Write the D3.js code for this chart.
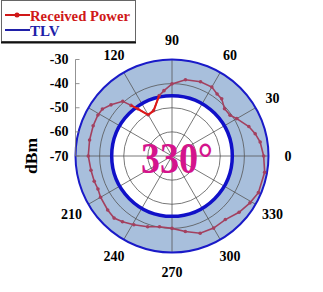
<!DOCTYPE html>
<html>
<head>
<meta charset="utf-8">
<script src="https://cdn.jsdelivr.net/npm/d3@7"></script>
<style>
  body { margin: 0; background: #fff; }
  text { font-family: "Liberation Serif", "Times New Roman", serif; font-weight: bold; }
</style>
</head>
<body>
<div id="chart"></div>
<script>
// Angles (deg, counter-clockwise from 0 at right) and received power (dBm)
const angles = [0, 9, 15, 21, 30, 35, 42, 49, 54, 60, 69, 80, 90, 97, 102, 112, 120, 126, 129, 132,
  140, 146, 151, 159, 169, 180, 190, 198, 204, 210, 220, 227, 233, 241, 251, 260, 270, 280, 290,
  300, 310, 320, 329, 337, 350];
const power = [-32, -33, -34.3, -35.9, -39, -40.6, -40.7, -38.6, -38.2, -37, -37, -37.9, -40.1,
  -42.7, -44.4, -49.7, -50.3, -45.8, -43, -39.5, -37, -35.2, -34.9, -35, -35.2, -35.3, -35.9,
  -36.1, -36.4, -35.8, -35.2, -34.8, -35.9, -37.4, -39, -40.2, -40, -38.2, -35.9, -35.5, -35.6,
  -33.7, -32.3, -31.1, -31];
const tlv = -45;
const radialTicks = [-30, -40, -50, -60, -70];
const angleLabels = [0, 30, 60, 90, 120, 210, 240, 270, 300, 330];
const spokes = [0, 30, 60, 90, 120, 150, 180, 210, 240, 270, 300, 330];
const centerLabel = '330°';

const W = 323, H = 292;
const cx = 172, cy = 156, R = 96.5;

const svg = d3.select('#chart').append('svg')
  .attr('width', W).attr('height', H);

const r = d3.scaleLinear().domain([-70, -30]).range([0, R]);
const rad = d => (90 - d) * Math.PI / 180;   // d3 radial angle from compass

const g = svg.append('g').attr('transform', 'translate(' + cx + ',' + cy + ')');

// shaded band between TLV and outer edge
g.append('path')
  .attr('d', d3.arc()({ innerRadius: r(tlv), outerRadius: R, startAngle: 0, endAngle: 2 * Math.PI }))
  .attr('fill', '#a8bfdc');

// grid circles
g.selectAll('circle.grid')
  .data([-40, -50, -60])
  .enter().append('circle')
  .attr('class', 'grid')
  .attr('r', d => r(d))
  .attr('fill', 'none')
  .attr('stroke', '#555')
  .attr('stroke-width', 0.8);

// spokes
g.selectAll('line.spoke')
  .data(spokes)
  .enter().append('line')
  .attr('class', 'spoke')
  .attr('x1', 0).attr('y1', 0)
  .attr('x2', d => R * Math.cos(d * Math.PI / 180))
  .attr('y2', d => -R * Math.sin(d * Math.PI / 180))
  .attr('stroke', '#555')
  .attr('stroke-width', 0.8);

// outer circle
g.append('circle').attr('r', R).attr('fill', 'none')
  .attr('stroke', '#1a1ac8').attr('stroke-width', 2);

// TLV circle
g.append('circle').attr('r', r(tlv)).attr('fill', 'none')
  .attr('stroke', '#1010c8').attr('stroke-width', 3.5);

// received power
const data = angles.map((a, i) => ({ angle: a, value: power[i] }));
const line = d3.lineRadial()
  .angle(d => rad(d.angle))
  .radius(d => r(d.value));

g.append('path')
  .attr('d', line.curve(d3.curveLinearClosed)(data))
  .attr('fill', 'none')
  .attr('stroke', '#a3405f')
  .attr('stroke-width', 1.6);

g.selectAll('circle.dot')
  .data(data)
  .enter().append('circle')
  .attr('class', 'dot')
  .attr('r', 1.8)
  .attr('cx', d => r(d.value) * Math.cos(d.angle * Math.PI / 180))
  .attr('cy', d => -r(d.value) * Math.sin(d.angle * Math.PI / 180))
  .attr('fill', '#a3405f');

// segments under the TLV drawn red
const redSegs = [];
data.forEach((d, i) => {
  const n = data[(i + 1) % data.length];
  if (d.value < tlv || n.value < tlv) redSegs.push([d, n]);
});
const segLine = d3.lineRadial().angle(d => rad(d.angle)).radius(d => r(d.value));
g.selectAll('path.red')
  .data(redSegs)
  .enter().append('path')
  .attr('class', 'red')
  .attr('d', d => segLine(d))
  .attr('fill', 'none')
  .attr('stroke', '#e01818')
  .attr('stroke-width', 2);

// angle labels
g.selectAll('text.ang')
  .data(angleLabels)
  .enter().append('text')
  .attr('class', 'ang')
  .attr('x', d => 116 * Math.cos(d * Math.PI / 180))
  .attr('y', d => -116 * Math.sin(d * Math.PI / 180))
  .attr('text-anchor', 'middle')
  .attr('dominant-baseline', 'central')
  .attr('font-size', 14)
  .text(d => d);

// radial axis on the left
const ax = svg.append('g').attr('transform', 'translate(' + (cx - R) + ',0)');
ax.append('line')
  .attr('x1', 0).attr('x2', 0)
  .attr('y1', cy - r(-30)).attr('y2', cy)
  .attr('stroke', '#777').attr('stroke-width', 0.8);
ax.selectAll('line.tk')
  .data(radialTicks)
  .enter().append('line')
  .attr('class', 'tk')
  .attr('x1', 0).attr('x2', 4)
  .attr('y1', d => cy - r(d)).attr('y2', d => cy - r(d))
  .attr('stroke', '#777').attr('stroke-width', 0.8);
ax.selectAll('text')
  .data(radialTicks)
  .enter().append('text')
  .attr('x', -7)
  .attr('y', d => cy - r(d))
  .attr('text-anchor', 'end')
  .attr('dominant-baseline', 'central')
  .attr('font-size', 14)
  .text(d => d);

svg.append('text')
  .attr('transform', 'translate(37,156) rotate(-90)')
  .attr('text-anchor', 'middle')
  .attr('font-size', 16)
  .attr('textLength', 36)
  .attr('lengthAdjust', 'spacingAndGlyphs')
  .text('dBm');

// centre label
svg.append('text')
  .attr('x', 177).attr('y', 173)
  .attr('text-anchor', 'middle')
  .attr('font-size', 44)
  .attr('textLength', 72)
  .attr('lengthAdjust', 'spacingAndGlyphs')
  .attr('fill', '#d4148c')
  .text(centerLabel);

// legend
const lg = svg.append('g');
lg.append('rect').attr('x', 1.5).attr('y', 0.5).attr('width', 134).attr('height', 41)
  .attr('fill', '#fff').attr('stroke', '#666').attr('stroke-width', 1);
lg.append('line').attr('x1', 1).attr('x2', 136).attr('y1', 42.5).attr('y2', 42.5)
  .attr('stroke', '#111').attr('stroke-width', 2);
lg.append('line').attr('x1', 5).attr('x2', 30).attr('y1', 15).attr('y2', 15)
  .attr('stroke', '#d01818').attr('stroke-width', 2);
lg.append('circle').attr('cx', 17).attr('cy', 15).attr('r', 2.5).attr('fill', '#d01818');
lg.append('text').attr('x', 30).attr('y', 20.5).attr('font-size', 15)
  .attr('textLength', 100).attr('lengthAdjust', 'spacingAndGlyphs')
  .attr('fill', '#d01818').text('Received Power');
lg.append('line').attr('x1', 5).attr('x2', 30).attr('y1', 30).attr('y2', 30)
  .attr('stroke', '#2020a8').attr('stroke-width', 2);
lg.append('text').attr('x', 30).attr('y', 36).attr('font-size', 15)
  .attr('fill', '#2020a8').text('TLV');
</script>
</body>
</html>
